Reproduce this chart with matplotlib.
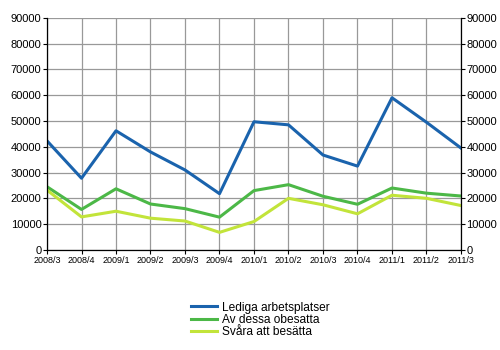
import matplotlib.pyplot as plt

plt.rcParams['font.family'] = ['Liberation Sans', 'DejaVu Sans']

# Kvartal och serier
quarters = ['2008/3', '2008/4', '2009/1', '2009/2', '2009/3', '2009/4', '2010/1',
            '2010/2', '2010/3', '2010/4', '2011/1', '2011/2', '2011/3']
lediga = [42300, 27800, 46200, 38000, 31000, 21800, 49700,
          48500, 36800, 32500, 59000, 49500, 39500]
obesatta = [24500, 15700, 23700, 17800, 16000, 12700, 23000,
            25300, 20800, 17700, 24000, 22000, 20900]
svara = [23200, 12800, 15000, 12300, 11200, 6800, 11000,
         20000, 17500, 14000, 21200, 20000, 17200]

fig = plt.figure(figsize=(5, 3.5), dpi=100)
ax = fig.add_axes([0.094, 0.286, 0.828, 0.663])

x = range(len(quarters))
l1, = ax.plot(x, lediga, color='#1a63ad', lw=2.2, label='Lediga arbetsplatser')
l2, = ax.plot(x, obesatta, color='#4cb847', lw=2.2, label='Av dessa obesatta')
l3, = ax.plot(x, svara, color='#c2e43a', lw=2.2, label='Svåra att besätta')

ax.set_xlim(0, len(quarters) - 1)
ax.set_ylim(0, 90000)
ax.set_yticks(range(0, 90001, 10000))
ax.set_xticks(list(x))
ax.set_xticklabels(quarters, fontsize=6.5)
ax.tick_params(axis='y', labelsize=8, length=3, width=0.8,
               left=True, right=True, labelleft=True, labelright=True, pad=1)
ax.tick_params(axis='x', length=3, width=0.8, pad=1.5)
ax.grid(True, color='#999999', lw=0.9)
ax.set_axisbelow(True)
for side in ['left', 'right', 'bottom']:
    ax.spines[side].set_linewidth(0.9)
ax.spines['top'].set_visible(False)

fig.legend(handles=[l1, l2, l3], loc='upper left', bbox_to_anchor=(0.372, 0.152),
           frameon=False, fontsize=8.6, handlelength=2.2, handletextpad=0.4,
           labelspacing=0.02, borderaxespad=0)

fig.savefig('out.png', dpi=100)
